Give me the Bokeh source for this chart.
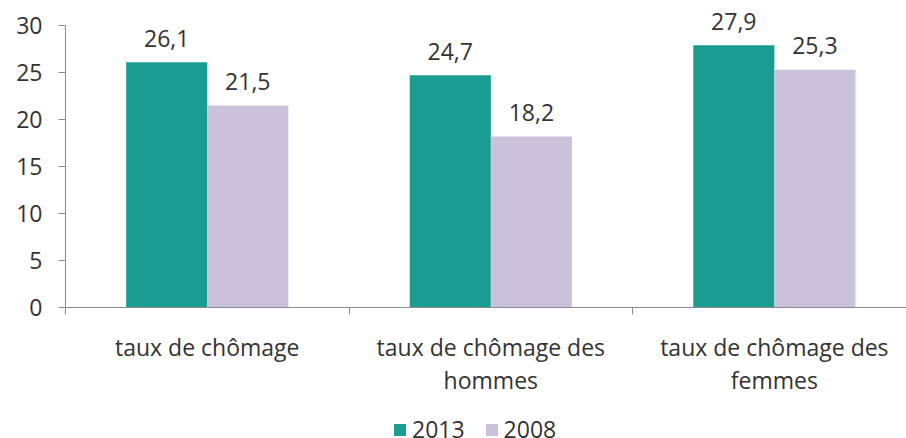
from bokeh.plotting import figure
from bokeh.layouts import column
from bokeh.models import Range1d, FixedTicker, ColumnDataSource, Legend, LegendItem
from bokeh.core.properties import value
from bokeh.embed import file_html
from bokeh.resources import INLINE

categories = ["taux de chômage", "taux de chômage des hommes", "taux de chômage des femmes"]
tick_labels = ["taux de chômage", "taux de chômage des\nhommes", "taux de chômage des\nfemmes"]
years = ["2013", "2008"]
values_2013 = [26.1, 24.7, 27.9]
values_2008 = [21.5, 18.2, 25.3]
y_ticks = [0, 5, 10, 15, 20, 25, 30]

colors = ["#1A9C93", "#CCC1DA"]
FONT = "Open Sans"
FS = "23px"
TXT = "#333333"
AX = "#8C8C8C"

n = len(categories)
centers = [i + 0.5 for i in range(n)]
bar_w = 0.286

p = figure(width=906, height=406, x_range=Range1d(0, 2.966), y_range=Range1d(0, 32.66),
           output_backend="svg", toolbar_location=None,
           min_border_left=65, min_border_top=0, min_border_right=0, min_border_bottom=99)
p.outline_line_color = None
p.grid.visible = False
p.background_fill_color = "white"
p.border_fill_color = "white"

for k, (yr, vals) in enumerate(zip(years, [values_2013, values_2008])):
    offs = -bar_w / 2 if k == 0 else bar_w / 2
    src = ColumnDataSource(dict(
        x=[c + offs for c in centers],
        top=vals,
        lab=[f"{v:.1f}".replace(".", ",") for v in vals],
    ))
    p.vbar(x="x", top="top", bottom=0, width=bar_w, source=src,
           fill_color=colors[k], line_color=None)
    p.text(x="x", y="top", text="lab", source=src, text_align="center",
           text_baseline="middle", y_offset=-24, text_font=value(FONT),
           text_font_size=FS, text_color=TXT)

# x axis
xa = p.xaxis[0]
xa.ticker = FixedTicker(ticks=centers, minor_ticks=[0, 1, 2, 3])
xa.major_label_overrides = {c: t for c, t in zip(centers, tick_labels)}
xa.major_tick_line_color = None
xa.major_tick_out = 0
xa.major_tick_in = 0
xa.minor_tick_out = 7
xa.minor_tick_in = 0
xa.minor_tick_line_color = AX
xa.axis_line_color = AX
xa.major_label_text_font = FONT
xa.major_label_text_font_size = FS
xa.major_label_text_color = TXT
xa.major_label_text_line_height = 1.05
xa.major_label_standoff = 16

# y axis
ya = p.yaxis[0]
ya.ticker = FixedTicker(ticks=y_ticks, minor_ticks=[])
ya.bounds = (0, 30)
ya.axis_line_color = AX
ya.major_tick_line_color = AX
ya.major_tick_out = 7
ya.major_tick_in = 0
ya.minor_tick_line_color = None
ya.major_label_text_font = FONT
ya.major_label_text_font_size = FS
ya.major_label_text_color = TXT
ya.major_label_standoff = 16

# legend strip (its frame is aligned with the main frame by the column layout)
lg = figure(width=906, height=32, x_range=Range1d(0, 1), y_range=Range1d(0, 1),
            output_backend="svg", toolbar_location=None,
            x_axis_location=None, y_axis_location=None,
            min_border_left=0, min_border_top=0, min_border_right=0, min_border_bottom=0)
lg.outline_line_color = None
lg.grid.visible = False
lg.border_fill_color = "white"
# placeholder bars kept outside the visible range; only their legend swatches show
lrs = [lg.vbar(x=[-5], top=[-4], bottom=-5, width=0.1, fill_color=c, line_color=None)
       for c in colors]
legend = Legend(items=[LegendItem(label=yr, renderers=[r]) for yr, r in zip(years, lrs)],
                orientation="horizontal", location=(327, -7),
                padding=0, margin=0, spacing=19, label_standoff=5,
                glyph_width=15, glyph_height=15,
                label_text_font=FONT, label_text_font_size=FS, label_text_color=TXT,
                border_line_color=None, background_fill_alpha=0)
lg.add_layout(legend)

layout = column(p, lg, spacing=0)
open("out.html", "w").write(file_html(layout, INLINE))
